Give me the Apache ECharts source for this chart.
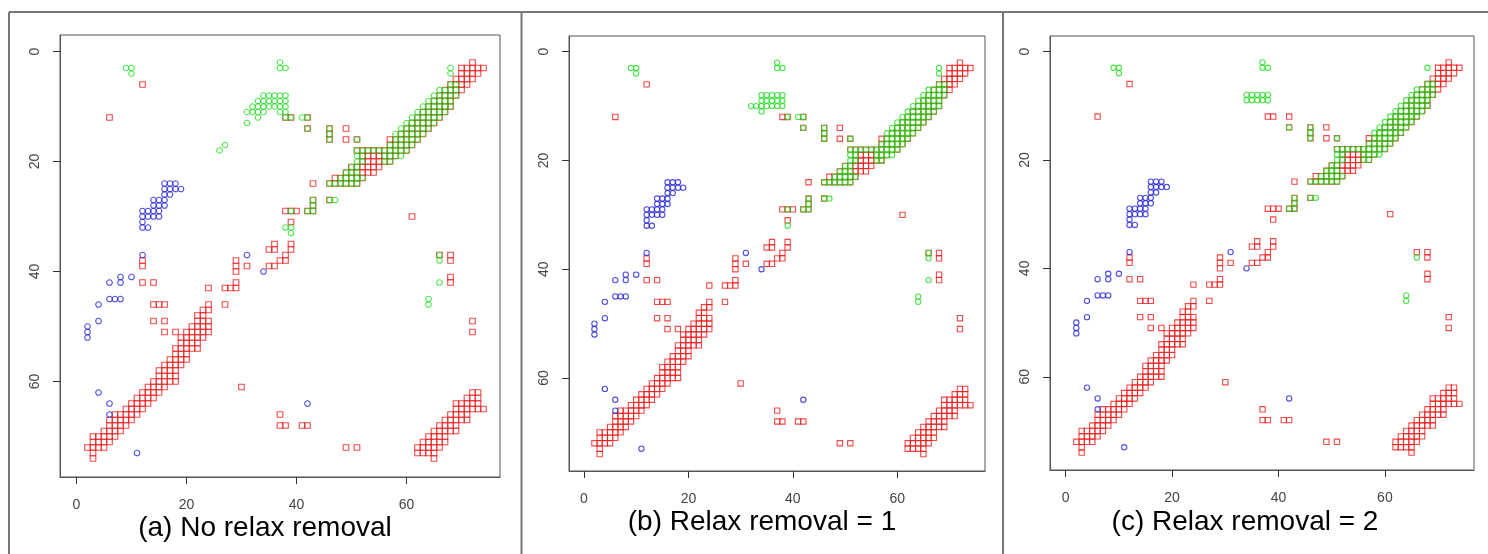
<!DOCTYPE html>
<html>
<head>
<meta charset="utf-8">
<script src="https://cdn.jsdelivr.net/npm/echarts@6/dist/echarts.min.js"></script>
<style>
  html, body { margin: 0; padding: 0; background: #fff; }
  #chart { width: 1488px; height: 554px; }
</style>
</head>
<body>
<div id="chart"></div>
<script>
// tick labels (same on both axes of every panel)
const xTicks = [0, 20, 40, 60]
const yTicks = [0, 20, 40, 60]
const captions = ['(a) No relax removal', '(b) Relax removal = 1', '(c) Relax removal = 2']

// runs are [row y, first x, last x]; points are [x, y]
const redLowerLeft = [
  [74, 3, 3], [73, 3, 3], [72, 2, 5], [71, 3, 6], [70, 3, 7], [69, 5, 8], [68, 6, 9],
  [67, 6, 10], [66, 7, 11], [65, 9, 12], [64, 10, 13], [63, 11, 14], [62, 12, 15],
  [61, 13, 16], [60, 14, 18], [59, 15, 18], [58, 15, 18], [57, 16, 19], [56, 17, 20],
  [55, 18, 20], [54, 18, 22], [53, 19, 22], [52, 19, 23], [51, 20, 24], [50, 21, 24],
  [49, 22, 24], [48, 22, 23], [47, 23, 24], [46, 24, 24]
]
const redLowerRight = [
  [74, 65, 65], [73, 62, 65], [72, 62, 66], [71, 63, 67], [70, 64, 67], [69, 65, 69],
  [68, 66, 69], [67, 67, 71], [66, 68, 71], [65, 69, 74], [64, 69, 73], [63, 71, 73],
  [62, 72, 73]
]
const redUpperRight = [
  [2, 72, 72], [3, 70, 74], [4, 70, 73], [5, 69, 72], [6, 68, 71], [7, 67, 70],
  [8, 66, 69], [9, 65, 68], [10, 64, 68], [11, 63, 67], [12, 62, 66], [13, 61, 65],
  [14, 60, 64], [15, 59, 63], [16, 57, 62], [17, 57, 61], [18, 51, 60], [19, 52, 58],
  [20, 52, 57], [21, 50, 55], [22, 49, 54], [23, 47, 52], [24, 46, 51]
]
const redPoints = [
  [12, 6], [6, 12], [38, 12], [39, 12], [42, 12], [42, 14], [46, 14], [49, 14], [46, 15],
  [46, 16], [49, 16], [51, 16], [43, 24], [43, 27], [46, 27], [43, 28], [38, 29], [39, 29],
  [40, 29], [42, 29], [43, 29], [61, 30], [39, 31], [36, 35], [39, 35], [35, 36], [36, 36],
  [39, 36], [38, 37], [37, 38], [38, 38], [35, 39], [36, 39], [29, 38], [29, 39], [29, 40],
  [31, 39], [12, 38], [12, 39], [12, 42], [14, 42], [29, 42], [24, 43], [27, 43], [28, 43],
  [29, 43], [14, 46], [15, 46], [16, 46], [27, 46], [14, 49], [16, 49], [16, 51], [18, 51],
  [30, 61], [37, 66], [37, 68], [38, 68], [41, 68], [42, 68], [49, 72], [51, 72], [66, 37],
  [68, 37], [68, 38], [68, 41], [68, 42], [72, 49], [72, 51]
]

const greenBand = [
  [6, 68, 69], [7, 66, 69], [8, 65, 69], [9, 64, 68], [10, 63, 68], [11, 62, 67],
  [12, 61, 66], [13, 60, 65], [14, 59, 64], [15, 58, 63], [16, 58, 62], [17, 57, 61],
  [18, 51, 60], [19, 51, 52], [19, 56, 59], [20, 51, 52], [20, 56, 57], [21, 50, 51],
  [22, 49, 51], [23, 48, 52], [24, 46, 51]
]
const greenClusterA = [[8, 34, 38], [9, 33, 38], [10, 32, 38], [11, 31, 34], [11, 37, 38]]
const greenClusterB = [[8, 34, 38], [9, 34, 38], [10, 32, 38], [11, 34, 34]]
const greenClusterC = [[8, 34, 38], [9, 34, 38]]
const greenA = [
  [9, 3], [10, 3], [10, 4], [37, 2], [37, 3], [38, 3], [68, 3], [68, 4], [26, 18], [27, 17],
  [33, 12], [31, 13], [38, 12], [39, 12], [41, 12], [42, 12], [42, 14], [46, 14], [46, 15],
  [46, 16], [51, 16], [43, 27], [43, 28], [42, 29], [43, 29], [39, 29], [46, 27], [47, 27],
  [38, 32], [39, 32], [39, 33], [66, 37], [66, 38], [66, 42], [64, 45], [64, 46]
]
const greenB = [
  [9, 3], [10, 3], [10, 4], [37, 2], [37, 3], [38, 3], [68, 3], [68, 4], [39, 12], [41, 12],
  [42, 12], [42, 14], [46, 14], [46, 15], [46, 16], [51, 16], [43, 27], [43, 28], [42, 29],
  [43, 29], [39, 29], [46, 27], [47, 27], [39, 32], [66, 37], [66, 38], [66, 42], [64, 45],
  [64, 46]
]
const greenC = [
  [9, 3], [10, 3], [10, 4], [37, 2], [37, 3], [38, 3], [68, 3], [42, 14], [46, 14], [46, 15],
  [46, 16], [51, 16], [43, 27], [43, 28], [42, 29], [43, 29], [46, 27], [47, 27], [66, 38],
  [64, 45], [64, 46]
]

const blueRuns = [
  [24, 16, 18], [25, 16, 19], [26, 16, 17], [27, 14, 16], [28, 14, 16], [29, 12, 15],
  [30, 12, 15], [31, 12, 12], [32, 12, 13]
]
const bluePoints = [
  [12, 37], [31, 37], [34, 40], [8, 41], [10, 41], [6, 42], [8, 42], [6, 45], [7, 45],
  [8, 45], [4, 46], [4, 49], [2, 50], [2, 51], [2, 52], [4, 62], [6, 64], [6, 66],
  [11, 73], [42, 64]
]

function expandRuns(runs) {
  const pts = []
  runs.forEach(([y, x0, x1]) => {
    for (let x = x0; x <= x1; x++) pts.push([x, y])
  })
  return pts
}

const panels = [
  { grid: { left: 60, top: 35, width: 440, height: 442 }, x: [-3, 77], y: [-3, 77.36],
    green: greenA, cluster: greenClusterA, size: 5.6, cap: [265, 528] },
  { grid: { left: 569, top: 36, width: 416, height: 435 }, x: [-2.87, 76.8], y: [-2.89, 77.1],
    green: greenB, cluster: greenClusterB, size: 5.3, cap: [762, 522] },
  { grid: { left: 1050, top: 36, width: 424, height: 434 }, x: [-2.95, 76.75], y: [-2.86, 77.2],
    green: greenC, cluster: greenClusterC, size: 5.3, cap: [1245, 522] }
]

const redAll = expandRuns(redLowerLeft)
  .concat(expandRuns(redLowerRight), expandRuns(redUpperRight), redPoints)
const blueAll = expandRuns(blueRuns).concat(bluePoints)

const axisFont = { fontFamily: 'Liberation Sans, Arial, sans-serif', fontSize: 14, color: '#444' }

const option = {
  animation: false,
  grid: [],
  xAxis: [],
  yAxis: [],
  series: [],
  graphic: [
    { type: 'line', shape: { x1: 9, y1: 12, x2: 1488, y2: 12 }, style: { stroke: '#777', lineWidth: 2 } },
    { type: 'line', shape: { x1: 9, y1: 12, x2: 9, y2: 554 }, style: { stroke: '#777', lineWidth: 2 } },
    { type: 'line', shape: { x1: 521.5, y1: 12, x2: 521.5, y2: 554 }, style: { stroke: '#777', lineWidth: 2 } },
    { type: 'line', shape: { x1: 1003, y1: 12, x2: 1003, y2: 554 }, style: { stroke: '#777', lineWidth: 2 } }
  ]
}

panels.forEach((p, i) => {
  option.grid.push(Object.assign({ show: true, borderColor: '#555', borderWidth: 1, backgroundColor: '#fff' }, p.grid))
  option.xAxis.push({
    type: 'value', gridIndex: i, min: p.x[0], max: p.x[1], position: 'bottom',
    axisLine: { show: true, onZero: false, lineStyle: { color: '#555', width: 1 } },
    axisTick: { show: true, length: 7, customValues: xTicks, lineStyle: { color: '#333', width: 1 } },
    axisLabel: Object.assign({ margin: 21, customValues: xTicks }, axisFont),
    splitLine: { show: false }
  })
  option.yAxis.push({
    type: 'value', gridIndex: i, min: p.y[0], max: p.y[1], inverse: true, position: 'left',
    axisLine: { show: true, onZero: false, lineStyle: { color: '#555', width: 1 } },
    axisTick: { show: true, length: 7, customValues: yTicks, lineStyle: { color: '#333', width: 1 } },
    axisLabel: Object.assign({ margin: 18, rotate: 90, customValues: yTicks }, axisFont),
    splitLine: { show: false }
  })
  const common = { type: 'scatter', xAxisIndex: i, yAxisIndex: i, silent: true, symbolSize: p.size }
  option.series.push(Object.assign({}, common, {
    name: 'red', symbol: 'rect', data: redAll,
    itemStyle: { color: 'rgba(0,0,0,0)', borderColor: '#ee1c1c', borderWidth: 1.1 }
  }))
  option.series.push(Object.assign({}, common, {
    name: 'green', symbol: 'circle', data: expandRuns(greenBand).concat(expandRuns(p.cluster), p.green),
    itemStyle: { color: 'rgba(0,0,0,0)', borderColor: '#22dd22', borderWidth: 1.1 }
  }))
  option.series.push(Object.assign({}, common, {
    name: 'blue', symbol: 'circle', data: blueAll,
    itemStyle: { color: 'rgba(0,0,0,0)', borderColor: '#2222dd', borderWidth: 1.1 }
  }))
  option.graphic.push({
    type: 'text', x: p.cap[0], y: p.cap[1],
    style: { text: captions[i], align: 'center', verticalAlign: 'middle',
      font: '28px "Liberation Sans", Arial, sans-serif', fill: '#000' }
  })
})

const chart = echarts.init(document.getElementById('chart'))
chart.setOption(option)
</script>
</body>
</html>
